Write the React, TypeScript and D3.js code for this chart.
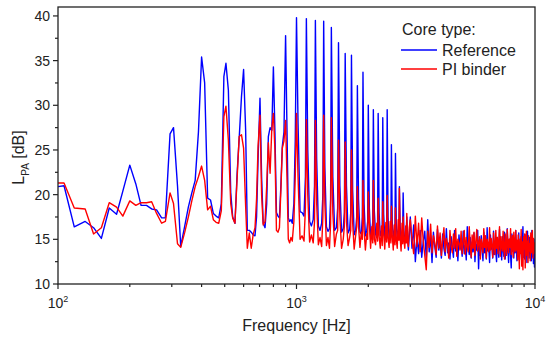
import * as d3 from "d3";

const W = 550;
const H = 341;
const M = { top: 7, right: 15, bottom: 57, left: 58 };
const IW = W - M.left - M.right;
const IH = H - M.top - M.bottom;

// 100 - 330 Hz
const freqLow = [100, 106, 117, 130, 141, 152, 164, 176, 187, 200, 212, 223, 235, 247, 259, 272, 282, 295, 305, 317, 327];
const refLow = [20.9, 21.0, 16.4, 17.0, 16.3, 15.1, 18.5, 17.8, 20.4, 23.3, 21.2, 18.8, 18.8, 18.4, 18.3, 17.4, 17.4, 26.8, 27.5, 21.0, 14.2];
const piLow = [21.3, 21.3, 18.5, 18.4, 15.6, 16.3, 19.1, 18.6, 17.6, 19.3, 18.8, 19.1, 19.1, 19.2, 17.9, 16.8, 17.0, 20.2, 19.0, 14.5, 14.1];

// 340 - 2970 Hz (harmonics of 100 Hz)
const freqMid = [
  340, 352, 364, 376, 388, 400, 412, 424, 436, 448,
  460, 472, 484, 496, 506, 518, 530, 540, 552, 564,
  575, 588, 600, 612, 622, 634, 646, 658, 670, 680,
  690, 703, 714, 725, 738, 750, 762, 775, 788, 800,
  812, 824, 836, 848, 860, 872, 886, 900, 912, 924,
  936, 948, 960, 975, 988, 1000, 1015, 1035, 1055, 1075,
  1090, 1100, 1115, 1135, 1155, 1175, 1190, 1200, 1215, 1235,
  1255, 1275, 1290, 1300, 1315, 1335, 1355, 1375, 1390, 1400,
  1420, 1445, 1470, 1488, 1500, 1520, 1545, 1570, 1588, 1600,
  1620, 1645, 1670, 1688, 1700, 1720, 1745, 1770, 1788, 1800,
  1820, 1845, 1870, 1888, 1900, 1920, 1945, 1970, 1988, 2000,
  2020, 2045, 2070, 2088, 2100, 2120, 2145, 2170, 2188, 2200,
  2220, 2245, 2270, 2288, 2300, 2320, 2345, 2370, 2388, 2400,
  2420, 2445, 2470, 2488, 2500, 2520, 2545, 2570, 2588, 2600,
  2620, 2645, 2670, 2688, 2700, 2720, 2745, 2770, 2788, 2800,
  2820, 2845, 2870, 2888, 2900, 2920, 2945, 2970,
];
const refMid = [
  16.5, 18.6, 20.2, 21.6, 27.0, 35.4, 32.5, 19.6, 19.4, 17.9,
  17.6, 17.4, 19.0, 33.2, 34.7, 31.7, 20.2, 17.5, 16.8, 22.5,
  26.3, 31.0, 34.0, 27.2, 16.0, 16.0, 15.8, 15.5, 15.4, 17.5,
  24.0, 30.8, 22.0, 16.8, 16.3, 19.0, 26.5, 27.5, 27.2, 34.3,
  27.0, 18.0, 17.6, 17.4, 21.0, 25.4, 27.0, 37.8, 27.5, 17.4,
  17.0, 17.2, 16.8, 19.0, 26.0, 39.8, 28.0, 18.1, 18.0, 17.6,
  22.0, 39.7, 25.0, 17.0, 16.5, 17.2, 21.0, 39.5, 24.0, 16.5,
  16.0, 16.8, 20.0, 39.4, 23.0, 16.4, 15.9, 16.2, 19.5, 38.7,
  22.0, 16.0, 16.3, 18.5, 37.0, 21.0, 15.8, 16.2, 18.0, 35.8,
  21.0, 15.7, 16.1, 18.0, 35.6, 20.5, 15.5, 16.0, 17.5, 32.2,
  19.5, 15.8, 15.6, 17.5, 33.7, 19.0, 15.4, 16.0, 17.0, 30.0,
  18.5, 15.3, 15.9, 17.0, 29.5, 18.2, 15.6, 15.2, 16.8, 29.1,
  18.0, 15.4, 15.8, 16.5, 28.6, 17.8, 15.2, 16.0, 16.6, 29.5,
  17.5, 15.0, 15.7, 16.4, 25.6, 17.0, 15.3, 15.8, 16.5, 24.6,
  16.8, 15.1, 15.9, 16.3, 20.9, 16.5, 14.8, 15.6, 16.2, 20.2,
  16.0, 14.6, 15.5, 16.0, 17.5, 15.5, 13.8, 15.4,
];
const piMid = [
  15.8, 17.5, 19.3, 20.9, 22.0, 23.2, 21.6, 18.3, 18.7, 17.2,
  16.9, 16.8, 18.2, 28.7, 29.9, 26.1, 19.0, 17.4, 16.8, 22.0,
  26.5, 26.7, 25.2, 18.7, 14.0, 15.7, 14.0, 15.5, 16.3, 19.5,
  25.4, 28.9, 20.0, 16.6, 17.0, 21.0, 25.8, 22.4, 27.4, 29.1,
  25.0, 16.0, 15.8, 16.3, 20.5, 25.2, 26.0, 28.3, 22.0, 15.0,
  14.6, 15.2, 14.8, 17.0, 22.0, 29.1, 22.0, 15.0, 15.4, 14.8,
  18.5, 28.4, 20.0, 14.7, 15.5, 14.6, 17.0, 28.3, 19.0, 14.4,
  15.2, 14.2, 17.5, 28.9, 19.0, 14.3, 15.2, 14.0, 16.8, 28.6,
  18.0, 14.2, 15.6, 16.0, 26.1, 17.5, 14.0, 15.0, 16.5, 25.9,
  17.0, 14.3, 15.2, 16.0, 25.0, 16.8, 13.9, 15.4, 16.4, 20.9,
  16.5, 14.1, 15.8, 15.0, 21.6, 16.0, 13.8, 15.6, 15.0, 20.3,
  16.8, 14.0, 16.4, 14.6, 21.6, 15.0, 14.4, 16.8, 14.8, 19.6,
  15.4, 14.0, 16.5, 14.3, 19.2, 15.6, 13.9, 16.9, 14.7, 19.9,
  15.2, 14.1, 17.0, 14.6, 18.7, 15.5, 13.8, 16.6, 14.4, 18.5,
  15.0, 14.0, 17.2, 14.9, 20.7, 15.2, 13.7, 16.8, 14.5, 17.5,
  15.0, 14.0, 16.5, 14.6, 17.9, 14.8, 14.2, 16.3,
];

// 3000 - 10000 Hz (broadband noise floor)
const freqHigh = [
  3000, 3050, 3100, 3150, 3200, 3250, 3300, 3350, 3400, 3450,
  3500, 3550, 3600, 3650, 3700, 3750, 3800, 3850, 3900, 3950,
  4000, 4050, 4100, 4150, 4200, 4250, 4300, 4350, 4400, 4450,
  4500, 4550, 4600, 4650, 4700, 4750, 4800, 4850, 4900, 4950,
  5000, 5050, 5100, 5150, 5200, 5250, 5300, 5350, 5400, 5450,
  5500, 5550, 5600, 5650, 5700, 5750, 5800, 5850, 5900, 5950,
  6000, 6050, 6100, 6150, 6200, 6250, 6300, 6350, 6400, 6450,
  6500, 6550, 6600, 6650, 6700, 6750, 6800, 6850, 6900, 6950,
  7000, 7050, 7100, 7150, 7200, 7250, 7300, 7350, 7400, 7450,
  7500, 7550, 7600, 7650, 7700, 7750, 7800, 7850, 7900, 7950,
  8000, 8050, 8100, 8150, 8200, 8250, 8300, 8350, 8400, 8450,
  8500, 8550, 8600, 8650, 8700, 8750, 8800, 8850, 8900, 8950,
  9000, 9050, 9100, 9150, 9200, 9250, 9300, 9350, 9400, 9450,
  9500, 9550, 9600, 9650, 9700, 9750, 9800, 9850, 9900, 9950,
  10000,
];
const refHigh = [
  17.5, 14.0, 16.6, 12.5, 15.2, 13.4, 16.0, 13.0, 14.8, 15.9,
  12.8, 17.2, 13.6, 15.4, 12.4, 15.8, 14.2, 13.0, 16.1, 13.8,
  14.9, 12.9, 15.6, 14.0, 13.2, 16.2, 13.5, 14.6, 12.8, 15.3,
  14.1, 13.0, 16.0, 13.7, 14.8, 12.6, 15.5, 13.9, 14.5, 13.1,
  15.9, 13.4, 14.3, 12.7, 16.4, 14.0, 13.3, 15.2, 12.9, 14.7,
  13.6, 15.7, 12.5, 14.4, 13.8, 16.0, 11.7, 14.9, 13.2, 15.4,
  14.0, 12.6, 15.8, 13.5, 14.6, 12.8, 16.3, 13.7, 14.2, 12.4,
  15.5, 13.9, 14.4, 12.9, 15.9, 13.3, 14.8, 13.6, 12.5, 15.2,
  14.1, 13.0, 16.1, 13.8, 14.5, 12.7, 15.3, 14.0, 13.1, 15.8,
  12.8, 14.6, 13.4, 16.2, 13.9, 12.4, 15.0, 14.3, 13.2, 11.8,
  15.6, 13.7, 14.4, 12.9, 15.1, 13.5, 16.0, 14.1, 12.6, 14.8,
  13.3, 15.7, 12.7, 14.5, 13.9, 15.3, 12.5, 14.2, 16.4, 13.0,
  14.7, 12.8, 15.5, 13.6, 14.9, 12.4, 15.9, 13.8, 14.3, 12.9,
  15.2, 13.4, 14.6, 12.6, 16.0, 13.1, 14.4, 12.3, 15.0, 11.9,
  14.3,
];
const piHigh = [
  17.2, 15.0, 13.4, 17.6, 14.2, 16.8, 13.6, 17.4, 14.8, 13.2,
  11.6, 15.9, 14.1, 16.7, 13.5, 15.4, 14.6, 13.3, 16.5, 14.0,
  15.7, 13.2, 14.9, 16.3, 13.6, 15.1, 14.4, 12.9, 16.0, 14.2,
  13.5, 15.6, 14.0, 16.2, 13.1, 15.0, 14.5, 13.8, 15.9, 13.4,
  14.7, 16.0, 13.3, 15.2, 14.1, 13.6, 16.4, 14.3, 13.0, 15.5,
  14.0, 15.8, 13.2, 14.9, 16.1, 13.7, 14.6, 15.3, 12.8, 15.0,
  14.4, 13.5, 16.2, 14.1, 15.4, 12.9, 15.0, 14.5, 13.6, 16.3,
  13.8, 15.1, 14.2, 13.0, 15.7, 14.4, 13.3, 16.0, 14.0, 15.2,
  13.4, 14.8, 16.4, 13.1, 15.3, 14.2, 13.7, 15.9, 14.0, 12.8,
  15.6, 14.3, 13.2, 16.1, 14.6, 13.5, 15.0, 14.1, 16.2, 13.3,
  14.5, 15.4, 13.0, 15.8, 14.2, 13.6, 16.0, 13.8, 14.9, 12.7,
  15.5, 14.1, 11.7, 15.0, 13.4, 16.1, 12.0, 14.7, 11.6, 15.3,
  13.9, 15.6, 11.8, 14.4, 15.9, 13.2, 14.8, 12.4, 15.4, 13.7,
  14.5, 12.6, 15.7, 13.5, 14.2, 16.0, 12.9, 15.1, 13.4, 14.6,
  13.8,
];

const yTicks = [10, 15, 20, 25, 30, 35, 40];
const yMinor = [12.5, 17.5, 22.5, 27.5, 32.5, 37.5];
const xMajor = [100, 1000, 10000];
const xMajorExp = ["2", "3", "4"];
const xMinor = [200, 300, 400, 500, 600, 700, 800, 900, 2000, 3000, 4000, 5000, 6000, 7000, 8000, 9000];

const series = [
  { name: "Reference", color: "#0000ff", freq: [...freqLow, ...freqMid, ...freqHigh], val: [...refLow, ...refMid, ...refHigh] },
  { name: "PI binder", color: "#ff0000", freq: [...freqLow, ...freqMid, ...freqHigh], val: [...piLow, ...piMid, ...piHigh] },
];

const FONT = "'Liberation Sans', Arial, sans-serif";
const INK = "#222";

export default function App() {
  const x = d3.scaleLog().domain([100, 10000]).range([0, IW]);
  const y = d3.scaleLinear().domain([10, 41]).range([IH, 0]);

  const line = d3
    .line<[number, number]>()
    .x((d) => x(d[0]))
    .y((d) => y(d[1]));

  return (
    <svg
      width={W}
      height={H}
      style={{ position: "absolute", left: 0, top: 0, background: "#fff" }}
      fontFamily={FONT}
    >
      <g transform={`translate(${M.left},${M.top})`}>
        <clipPath id="plot">
          <rect x={0} y={0} width={IW} height={IH} />
        </clipPath>

        <g clipPath="url(#plot)">
          {series.map((s) => (
            <path
              key={s.name}
              d={line(s.freq.map((f, i) => [f, s.val[i]] as [number, number])) ?? ""}
              fill="none"
              stroke={s.color}
              strokeWidth={1.4}
              strokeLinejoin="round"
            />
          ))}
        </g>

        <rect x={0} y={0} width={IW} height={IH} fill="none" stroke={INK} strokeWidth={1.3} />

        {/* y axis */}
        {yTicks.map((t) => (
          <g key={t} transform={`translate(0,${y(t)})`}>
            <line x1={-5} x2={0} stroke={INK} strokeWidth={1.2} />
            <text x={-8} dy="0.35em" textAnchor="end" fontSize={14} fill={INK}>
              {t}
            </text>
          </g>
        ))}
        {yMinor.map((t) => (
          <line key={t} x1={-3} x2={0} y1={y(t)} y2={y(t)} stroke={INK} strokeWidth={1.2} />
        ))}

        {/* x axis */}
        {xMajor.map((t, i) => (
          <g key={t} transform={`translate(${x(t)},${IH})`}>
            <line y1={0} y2={5} stroke={INK} strokeWidth={1.2} />
            <text y={24} textAnchor="middle" fontSize={14} fill={INK}>
              10
              <tspan dy={-6} fontSize={9}>
                {xMajorExp[i]}
              </tspan>
            </text>
          </g>
        ))}
        {xMinor.map((t) => (
          <line key={t} x1={x(t)} x2={x(t)} y1={IH} y2={IH + 3} stroke={INK} strokeWidth={1.2} />
        ))}

        <text x={IW / 2} y={IH + 47} textAnchor="middle" fontSize={16} fill={INK}>
          Frequency [Hz]
        </text>
        <text transform={`translate(-34,${IH / 2 + 12}) rotate(-90)`} textAnchor="middle" fontSize={16} fill={INK}>
          L
          <tspan dy={5} fontSize={10}>
            PA
          </tspan>
          <tspan dy={-5}> [dB]</tspan>
        </text>

        {/* legend */}
        <g transform={`translate(${IW - 133},0)`}>
          <text x={0} y={28} fontSize={16} fill={INK}>
            Core type:
          </text>
          {series.map((s, i) => (
            <g key={s.name} transform={`translate(0,${43 + i * 19})`}>
              <line x1={-1} x2={35} stroke={s.color} strokeWidth={1.3} />
              <text x={40} dy="0.35em" fontSize={16} fill={INK}>
                {s.name}
              </text>
            </g>
          ))}
        </g>
      </g>
    </svg>
  );
}
